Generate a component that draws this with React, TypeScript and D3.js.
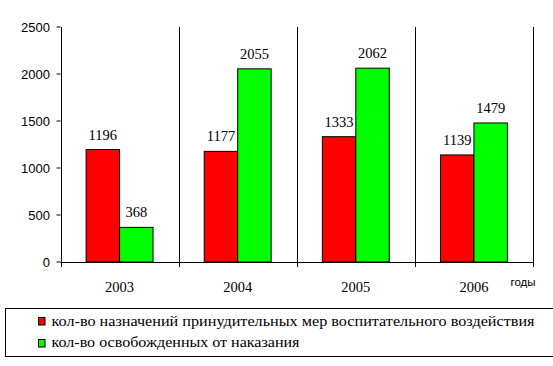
import React from "react";
import * as d3 from "d3";

const years = ["2003", "2004", "2005", "2006"];
const measures = [1196, 1177, 1333, 1139];
const released = [368, 2055, 2062, 1479];
const yTicks = [0, 500, 1000, 1500, 2000, 2500];
const seriesNames = [
  "кол-во назначений принудительных мер воспитательного воздействия",
  "кол-во освобожденных от наказания",
];
const seriesColors = ["#ff0000", "#00ff00"];
const legendWidths = [483, 248];

const W = 553;
const H = 366;
const left = 60.5;
const right = 533;
const top = 27;
const bottom = 262;
const SERIF = "'Liberation Serif', 'Times New Roman', serif";
const SANS = "'Liberation Sans', Arial, sans-serif";

export default function App() {
  const x = d3.scaleBand<string>().domain(years).range([left, right]).padding(0);
  const sub = d3
    .scaleBand<number>()
    .domain([0, 1])
    .range([0, x.bandwidth()])
    .paddingInner(0)
    .paddingOuter(0.765);
  const y = d3.scaleLinear().domain([0, 2500]).range([bottom, top]);
  const series = [measures, released];
  const bounds = [...years.map((yr) => x(yr) as number), right];

  return (
    <svg
      width={W}
      height={H}
      style={{ position: "absolute", left: 0, top: 0, background: "#fff" }}
    >
      {bounds.map((bx, i) => (
        <g key={"b" + i}>
          <line x1={Math.round(bx) + 0.5} x2={Math.round(bx) + 0.5} y1={top} y2={bottom} stroke="#000" strokeWidth={1} />
          <line x1={Math.round(bx) + 0.5} x2={Math.round(bx) + 0.5} y1={bottom} y2={bottom + 5} stroke="#000" strokeWidth={1} />
        </g>
      ))}
      {yTicks.map((t) => (
        <g key={"t" + t}>
          <line x1={left - 4} x2={left} y1={y(t)} y2={y(t)} stroke="#000" />
          <text x={50} y={y(t) + 4.5} textAnchor="end" style={{ fontFamily: SANS, fontSize: 13 }} fill="#000">
            {t}
          </text>
        </g>
      ))}
      {years.map((yr, i) => (
        <g key={yr}>
          {series.map((s, k) => {
            const bx = (x(yr) as number) + (sub(k) as number);
            const bw = sub.bandwidth();
            return (
              <g key={k}>
                <rect
                  x={bx}
                  y={y(s[i])}
                  width={bw}
                  height={bottom - y(s[i])}
                  fill={seriesColors[k]}
                  stroke="#000"
                  strokeWidth={1}
                />
                <text
                  x={bx + bw / 2}
                  y={y(s[i]) - 10}
                  textAnchor="middle"
                  style={{ fontFamily: SERIF, fontSize: 14.5 }}
                  fill="#000"
                >
                  {s[i]}
                </text>
              </g>
            );
          })}
          <text
            x={(x(yr) as number) + x.bandwidth() / 2}
            y={291.5}
            textAnchor="middle"
            style={{ fontFamily: SERIF, fontSize: 14.5 }}
            fill="#000"
          >
            {yr}
          </text>
        </g>
      ))}
      <line x1={left} x2={right + 0.5} y1={bottom + 0.5} y2={bottom + 0.5} stroke="#000" />
      <text x={510.5} y={285.5} style={{ fontFamily: SANS, fontSize: 11.5 }} fill="#000">
        годы
      </text>
      <rect x={5.5} y={308.5} width={560} height={48} fill="none" stroke="#000" strokeWidth={1} />
      {seriesNames.map((n, k) => (
        <g key={n}>
          <rect x={38.5} y={317.5 + k * 22} width={6.5} height={7.5} fill={seriesColors[k]} stroke="#000" />
          <text
            x={51.5}
            y={325.5 + k * 21.5}
            style={{ fontFamily: SERIF, fontSize: 15.5 }}
            textLength={legendWidths[k]}
            lengthAdjust="spacingAndGlyphs"
            fill="#000"
          >
            {n}
          </text>
        </g>
      ))}
    </svg>
  );
}
